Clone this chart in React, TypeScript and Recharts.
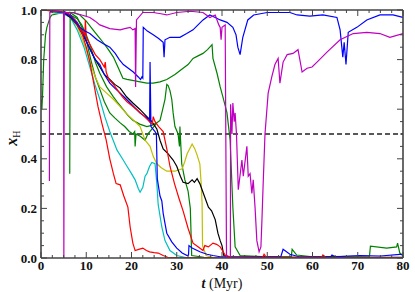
import React from 'react';
import { LineChart, Line, XAxis, YAxis, ReferenceLine } from 'recharts';

// ─── Data: [t (Myr), x_H] ────────────────────────────────────────────────────

const redA: number[][] = [
  [0, 1.0], [3.8, 0.995], [5.7, 0.99], [7, 0.965], [8, 0.94], [9, 0.91], [10, 0.85],
  [10.8, 0.79], [11.7, 0.7], [12.6, 0.61], [13.5, 0.54], [14.4, 0.476], [15.2, 0.4],
  [16, 0.34], [16.6, 0.3], [17.5, 0.295], [18.3, 0.25], [19.2, 0.205], [19.7, 0.125],
  [20.3, 0.06], [20.8, 0.03], [21.6, 0.035], [22.5, 0.04], [23.3, 0.03], [24, 0.025],
  [25, 0.022], [25.9, 0.02], [27, 0.01], [28, 0.003], [30, 0.002], [80, 0.001],
];

const redB: number[][] = [
  [0, 1.0], [4, 0.995], [6, 0.985], [7.5, 0.96], [9, 0.92], [9.7, 0.9], [9.8, 0.96],
  [10, 0.89], [11, 0.855], [12, 0.82], [13, 0.8], [14, 0.77], [14.2, 0.79], [14.4, 0.75],
  [15, 0.72], [16, 0.7], [17, 0.675], [18, 0.65], [19, 0.63], [20.4, 0.61], [22, 0.585],
  [23.4, 0.56], [24.6, 0.54], [24.8, 0.57], [25.2, 0.55], [26, 0.53], [27, 0.51],
  [27.8, 0.44], [28.5, 0.37], [29.5, 0.3], [30.5, 0.24], [31.4, 0.19], [32.5, 0.12],
  [33.6, 0.06], [34.7, 0.045], [35.8, 0.03], [36.2, 0.05], [37, 0.045], [38, 0.06],
  [38.8, 0.055], [39.6, 0.045], [40.7, 0.012], [42, 0.003], [49, 0.003], [49.3, 0.015],
  [49.8, 0.003], [62, 0.003], [62.3, 0.012], [62.8, 0.003], [80, 0.002],
];

const blackLine: number[][] = [
  [0, 1.0], [3, 0.995], [5, 0.99], [6.5, 0.97], [8, 0.94], [9.2, 0.9], [10.4, 0.86],
  [11.7, 0.81], [13, 0.77], [14, 0.74], [15.2, 0.72], [16.3, 0.7], [17.5, 0.685],
  [18.9, 0.65], [20.3, 0.625], [21.8, 0.6], [23.4, 0.57], [24.5, 0.55], [25.6, 0.52],
  [26.3, 0.475], [27, 0.44], [28.1, 0.42], [29.2, 0.395], [30, 0.37], [30.8, 0.33],
  [31.4, 0.305], [32.5, 0.3], [33.4, 0.315], [33.9, 0.305], [34.5, 0.32], [35.1, 0.3],
  [35.7, 0.27], [36.2, 0.245], [37, 0.205], [37.7, 0.19], [38.5, 0.155], [39.1, 0.1],
  [39.6, 0.07], [40, 0.05], [40.4, 0.01], [42, 0.004], [60, 0.003], [80, 0.003],
];

const cyanLine: number[][] = [
  [2.5, 0.99], [5, 0.985], [6.5, 0.97], [8, 0.92], [9.5, 0.85], [10.8, 0.77], [11.9, 0.7],
  [13, 0.64], [14.1, 0.57], [15.2, 0.51], [16.8, 0.435], [18, 0.4], [19, 0.37], [20, 0.34],
  [20.8, 0.315], [21.5, 0.28], [21.9, 0.265], [22.5, 0.285], [23, 0.33], [23.4, 0.34],
  [24, 0.37], [24.5, 0.385], [25.2, 0.38], [25.6, 0.3], [25.9, 0.215], [26.7, 0.125],
  [27.4, 0.07], [28.5, 0.03], [30, 0.01], [32, 0.002], [80, 0.001],
];

const yellowLine: number[][] = [
  [2, 0.99], [5, 0.985], [6.5, 0.97], [8, 0.935], [9, 0.89], [10, 0.84], [11, 0.78],
  [12, 0.73], [13, 0.69], [14.5, 0.665], [16, 0.64], [17.5, 0.61], [19, 0.58],
  [20.5, 0.555], [21.9, 0.53], [23, 0.475], [24.1, 0.45], [24.8, 0.41], [25.6, 0.38],
  [26.5, 0.365], [27.8, 0.35], [29.6, 0.35], [31.2, 0.36], [31.8, 0.39], [32.3, 0.42],
  [33.4, 0.46], [34, 0.44], [34.5, 0.415], [35.1, 0.38], [35.4, 0.3], [35.6, 0.22],
  [35.7, 0.05], [36.5, 0.01], [38, 0.002], [80, 0.001],
];

const blueA: number[][] = [
  [2, 0.995], [5, 0.99], [6.5, 0.975], [7.5, 0.955], [8.6, 0.93], [9.7, 0.915],
  [10.8, 0.905], [12.4, 0.88], [13.7, 0.865], [15.2, 0.85], [16.4, 0.825], [17.3, 0.8],
  [18.2, 0.78], [19.3, 0.765], [20.4, 0.75], [21.5, 0.73], [22, 0.72], [22.3, 0.73],
  [22.5, 0.725], [22.6, 0.93], [23.5, 0.915], [24.8, 0.9], [26, 0.885], [27, 0.87],
  [27.2, 0.81], [27.4, 0.88], [28.5, 0.89], [30.7, 0.89], [32.2, 0.905], [33.6, 0.92],
  [34.7, 0.94], [35.8, 0.96], [37.3, 0.98], [38.5, 0.97], [39.6, 0.96], [41.1, 0.95],
  [42.4, 0.93], [43.1, 0.9], [43.5, 0.85], [44, 0.82], [44.6, 0.89], [45.7, 0.96],
  [47, 0.98], [50, 0.99], [52.8, 0.99], [55, 0.99], [56.6, 0.98], [59.4, 0.975],
  [62.3, 0.98], [65.4, 0.97], [66.1, 0.92], [66.7, 0.81], [67, 0.87], [67.4, 0.78],
  [67.9, 0.91], [69.8, 0.93], [72, 0.96], [74.9, 0.98], [77.8, 0.98], [80, 0.97],
];

const blueB: number[][] = [
  [5, 0.995], [6.5, 0.98], [8, 0.95], [9, 0.915], [10, 0.875], [11, 0.835], [12, 0.8],
  [13, 0.78], [14, 0.74], [15.2, 0.705], [16.3, 0.685], [17.5, 0.665], [18.6, 0.645],
  [19.7, 0.625], [20.8, 0.605], [21.9, 0.585], [23.4, 0.565], [24, 0.55], [24.1, 0.79],
  [24.3, 0.53], [25.2, 0.51], [25.5, 0.5], [25.7, 0.32], [26.3, 0.25], [26.7, 0.23],
  [27, 0.18], [27.4, 0.14], [27.8, 0.1], [28.9, 0.065], [30, 0.04], [31.2, 0.02],
  [32.3, 0.01], [32.6, 0.012], [32.7, 0.05], [33.4, 0.04], [35.1, 0.025], [36.7, 0.015],
  [38, 0.01], [39.6, 0.005], [53, 0.005], [53.5, 0.035], [55, 0.015], [57, 0.005],
  [64, 0.005], [64.3, 0.012], [65, 0.005], [70.5, 0.01], [75, 0.008], [79.3, 0.015],
  [80, 0.012],
];

const greenA: number[][] = [
  [0, 0.64], [0.2, 0.6], [0.35, 0.66], [0.6, 0.8], [1, 0.9], [1.3, 0.93], [2, 0.97],
  [2.4, 0.98], [5, 0.99], [7, 0.99], [8.6, 0.98], [10, 0.955], [11.5, 0.92],
  [12.6, 0.895], [13.7, 0.87], [14.9, 0.84], [16, 0.81], [17, 0.77], [18.1, 0.725],
  [19, 0.72], [20.5, 0.715], [21.9, 0.71], [23.4, 0.705], [24.8, 0.705], [26.3, 0.71],
  [27.8, 0.72], [29.6, 0.74], [31.4, 0.765], [32.5, 0.78], [33.6, 0.805], [34.7, 0.815],
  [35.8, 0.825], [36.8, 0.84], [37.8, 0.86], [38, 0.805], [38.9, 0.745], [39.6, 0.69],
  [40.2, 0.65], [41.1, 0.585], [41.8, 0.475], [42.4, 0.205], [42.9, 0.045], [44, 0.01],
  [50, 0.005], [55.3, 0.005], [55.5, 0.035], [56.5, 0.012], [60, 0.005], [72.6, 0.008],
  [72.8, 0.048], [76.4, 0.04], [78.6, 0.045], [78.8, 0.06], [79.3, 0.02], [80, 0.01],
];

const greenB: number[][] = [
  [3, 0.99], [6, 0.985], [8, 0.965], [9, 0.94], [10, 0.9], [11, 0.85], [12, 0.79],
  [13, 0.745], [14.5, 0.69], [16, 0.65], [17, 0.625], [18.1, 0.6], [19.2, 0.575],
  [20.3, 0.555], [21.8, 0.54], [23.4, 0.53], [24.5, 0.535], [25.6, 0.545], [26.3, 0.555],
  [26.9, 0.6], [27.4, 0.64], [27.8, 0.7], [28.1, 0.695], [28.5, 0.675], [28.9, 0.64],
  [29.2, 0.585], [29.6, 0.53], [30.3, 0.5], [30.6, 0.45], [30.7, 0.53], [31.1, 0.38],
  [31.8, 0.315], [32.5, 0.27], [33, 0.2], [33.3, 0.01], [36, 0.003], [80, 0.002],
];

const greenC: number[][] = [
  [6.35, 0.34], [6.45, 0.99], [8, 0.97], [9, 0.93], [10, 0.88], [11, 0.8], [12, 0.73],
  [13, 0.68], [14, 0.63], [15.2, 0.585], [16.3, 0.565], [17.5, 0.545], [18.5, 0.53],
  [19.5, 0.51], [20.3, 0.5], [20.7, 0.51], [20.8, 0.45], [21, 0.5], [22, 0.49],
  [23, 0.475], [23.6, 0.5], [24.5, 0.52], [25.6, 0.545],
];

const magentaLine: number[][] = [
  [1.85, 0.31], [1.95, 0.99], [3, 0.995], [5, 0.99], [5.05, 0.0], [5.15, 0.99],
  [7.1, 0.99], [9, 0.98], [10.8, 0.97], [12, 0.955], [13, 0.94], [15.2, 0.925],
  [17.5, 0.92], [18.5, 0.925], [19.7, 0.93], [20.3, 0.92], [20.8, 0.925], [20.9, 0.69],
  [21.1, 0.96], [22.5, 0.99], [24.8, 0.99], [26.5, 0.985], [27.8, 0.98], [30, 0.99],
  [33, 0.995], [35.8, 0.99], [37.3, 0.97], [38.5, 0.98], [39.3, 0.94], [39.6, 0.93],
  [39.8, 0.88], [40, 0.93], [40.7, 0.94], [41, 0.0], [41.85, 0.0], [41.9, 0.62],
  [42.2, 0.5], [42.4, 0.625], [42.7, 0.55], [42.9, 0.585], [43.2, 0.5], [43.6, 0.275],
  [44.4, 0.395], [44.7, 0.33], [45.5, 0.45], [45.8, 0.33], [46.2, 0.34], [46.6, 0.26],
  [46.9, 0.315], [47.3, 0.205], [47.7, 0.07], [48.2, 0.025], [48.6, 0.045], [48.8, 0.14],
  [49.1, 0.3], [49.5, 0.5], [50.2, 0.665], [51, 0.73], [51.7, 0.78], [52.4, 0.805],
  [52.8, 0.705], [53.5, 0.79], [54.4, 0.82], [55.7, 0.825], [56.8, 0.84], [57.7, 0.75],
  [58.8, 0.765], [59.9, 0.77], [61, 0.79], [63.2, 0.83], [66.1, 0.88], [69, 0.905],
  [72, 0.91], [74.9, 0.905], [77.1, 0.89], [80, 0.905],
];

// ─── Ticks ───────────────────────────────────────────────────────────────────

const xTicks = [
  0, 2.5, 5, 7.5, 10, 12.5, 15, 17.5, 20, 22.5, 25, 27.5, 30, 32.5, 35, 37.5, 40,
  42.5, 45, 47.5, 50, 52.5, 55, 57.5, 60, 62.5, 65, 67.5, 70, 72.5, 75, 77.5, 80,
];
const yTicks = [
  0, 0.05, 0.1, 0.15, 0.2, 0.25, 0.3, 0.35, 0.4, 0.45, 0.5,
  0.55, 0.6, 0.65, 0.7, 0.75, 0.8, 0.85, 0.9, 0.95, 1,
];

const SERIES: { name: string; pts: number[][]; color: string }[] = [
  { name: 'greenA', pts: greenA, color: '#008000' },
  { name: 'greenB', pts: greenB, color: '#008000' },
  { name: 'greenC', pts: greenC, color: '#008000' },
  { name: 'yellow', pts: yellowLine, color: '#bfbf00' },
  { name: 'cyan', pts: cyanLine, color: '#00bfbf' },
  { name: 'black', pts: blackLine, color: '#000000' },
  { name: 'blueB', pts: blueB, color: '#0000ff' },
  { name: 'redA', pts: redA, color: '#ff0000' },
  { name: 'redB', pts: redB, color: '#ff0000' },
  { name: 'blueA', pts: blueA, color: '#0000ff' },
  { name: 'magenta', pts: magentaLine, color: '#bf00bf' },
];

const toRows = (pts: number[][]) => pts.map(([t, x]) => ({ t, x }));

const AXIS = '#444';
const TICK_FONT = { fontFamily: '"Liberation Serif", serif', fontWeight: 700, fontSize: 13, fill: '#111' };

const isMajorX = (v: number) => v % 10 === 0;
const isMajorY = (v: number) => Math.abs(v * 5 - Math.round(v * 5)) < 1e-6;

// ─── Custom inward ticks ─────────────────────────────────────────────────────

function BottomTick({ x, y, payload }: any) {
  const major = isMajorX(payload.value);
  return (
    <g>
      <line x1={x} x2={x} y1={y} y2={y - (major ? 6 : 3)} stroke={AXIS} strokeWidth={1} />
      {major && (
        <text x={x} y={y + 12} textAnchor="middle" {...TICK_FONT}>
          {payload.value}
        </text>
      )}
    </g>
  );
}

function TopTick({ x, y, payload }: any) {
  const major = isMajorX(payload.value);
  return <line x1={x} x2={x} y1={y} y2={y + (major ? 6 : 3)} stroke={AXIS} strokeWidth={1} />;
}

function LeftTick({ x, y, payload }: any) {
  const major = isMajorY(payload.value);
  return (
    <g>
      <line x1={x} x2={x + (major ? 6 : 3)} y1={y} y2={y} stroke={AXIS} strokeWidth={1} />
      {major && (
        <text x={x - 4} y={y + 4.5} textAnchor="end" {...TICK_FONT}>
          {payload.value.toFixed(1)}
        </text>
      )}
    </g>
  );
}

function RightTick({ x, y, payload }: any) {
  const major = isMajorY(payload.value);
  return <line x1={x} x2={x - (major ? 6 : 3)} y1={y} y2={y} stroke={AXIS} strokeWidth={1} />;
}

// ─── Component ───────────────────────────────────────────────────────────────

export default function App() {
  const axisLine = { stroke: AXIS, strokeWidth: 1.6 };
  return (
    <div style={{ position: 'absolute', left: 0, top: 0, width: 415, height: 292, background: '#fff' }}>
      <LineChart width={415} height={292} margin={{ top: 9, right: 11, bottom: 0, left: 0 }}>
        <XAxis
          xAxisId={0}
          dataKey="t"
          type="number"
          domain={[0, 80]}
          ticks={xTicks}
          interval={0}
          height={34}
          allowDataOverflow
          tickSize={0}
          tickMargin={0}
          tickLine={false}
          axisLine={axisLine}
          tick={<BottomTick />}
        />
        <XAxis
          xAxisId="top"
          orientation="top"
          dataKey="t"
          type="number"
          domain={[0, 80]}
          ticks={xTicks}
          interval={0}
          height={1}
          allowDataOverflow
          tickSize={0}
          tickMargin={0}
          tickLine={false}
          axisLine={axisLine}
          tick={<TopTick />}
        />
        <YAxis
          yAxisId={0}
          type="number"
          domain={[0, 1]}
          ticks={yTicks}
          interval={0}
          width={41}
          allowDataOverflow
          tickSize={0}
          tickMargin={0}
          tickLine={false}
          axisLine={axisLine}
          tick={<LeftTick />}
        />
        <YAxis
          yAxisId="right"
          orientation="right"
          type="number"
          domain={[0, 1]}
          ticks={yTicks}
          interval={0}
          width={1}
          allowDataOverflow
          tickSize={0}
          tickMargin={0}
          tickLine={false}
          axisLine={axisLine}
          tick={<RightTick />}
        />
        <ReferenceLine y={0.5} stroke="#222" strokeWidth={1.4} strokeDasharray="5 3" />
        {SERIES.map((s) => (
          <Line
            key={s.name}
            data={toRows(s.pts)}
            dataKey="x"
            type="linear"
            stroke={s.color}
            strokeWidth={1.2}
            dot={false}
            activeDot={false}
            isAnimationActive={false}
          />
        ))}
      </LineChart>
      <svg
        width={415}
        height={292}
        style={{ position: 'absolute', left: 0, top: 0, pointerEvents: 'none' }}
      >
        <text
          x={222}
          y={288}
          textAnchor="middle"
          fontFamily='"Liberation Serif", serif'
          fontSize={14}
          fill="#111"
        >
          <tspan fontStyle="italic" fontWeight={700}>t</tspan>
          <tspan> (Myr)</tspan>
        </text>
        <text
          x={17}
          y={138}
          transform="rotate(-90, 17, 138)"
          textAnchor="middle"
          fontFamily='"Liberation Serif", serif'
          fontSize={16}
          fill="#111"
        >
          <tspan fontStyle="italic" fontWeight={700}>x</tspan>
          <tspan fontSize={10} dy={3}>H</tspan>
        </text>
      </svg>
    </div>
  );
}
